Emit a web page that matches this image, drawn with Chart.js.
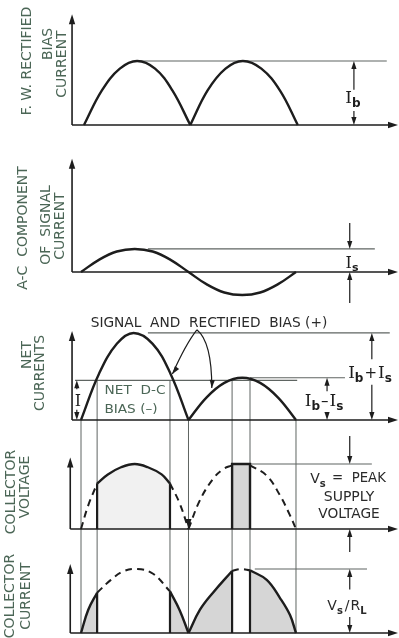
<!DOCTYPE html>
<html>
<head>
<meta charset="utf-8">
<script src="https://cdn.jsdelivr.net/npm/chart.js@4.4.1/dist/chart.umd.min.js"></script>
<style>
  html, body { margin: 0; padding: 0; background: #fff; }
  canvas { display: block; }
</style>
</head>
<body>
<canvas id="chart" width="399" height="638"></canvas>
<script>
// phase angle in degrees over one signal cycle; values relative to their own peak
const biasPhase = [5, 35, 65, 94, 124, 153, 183, 212, 242, 271, 302, 333, 363];
const biasCurrent = [0, 0.54, 0.88, 1, 0.88, 0.54, 0, 0.54, 0.88, 1, 0.88, 0.54, 0];

const signalPhase = [0, 30, 60, 90, 120, 150, 180, 210, 240, 270, 300, 330, 360];
const signalCurrent = [0, 0.19, 0.32, 0.36, 0.32, 0.19, 0, -0.19, -0.32, -0.36, -0.32, -0.19, 0];

const netPhase = [0, 30, 60, 88, 120, 150, 180, 210, 240, 270, 300, 330, 360];
const netCurrent = [0, 0.72, 1.19, 1.36, 1.19, 0.72, 0, 0.35, 0.58, 0.66, 0.58, 0.35, 0];

const voltPhase = [0, 12, 27, 45, 67, 90, 112, 135, 149, 165, 180, 199, 221, 238, 253, 283, 311, 333, 350, 360];
const voltValue = [0, 0.36, 0.7, 0.84, 0.95, 1, 0.95, 0.84, 0.7, 0.4, 0, 0.44, 0.77, 0.92, 0.98, 0.98, 0.82, 0.52, 0.21, 0];

const currPhase = [0, 12, 27, 50, 70, 93, 120, 149, 165, 180, 199, 221, 253, 268, 283, 311, 333, 350, 360];
const currValue = [0, 0.36, 0.63, 0.83, 0.96, 1, 0.93, 0.65, 0.36, 0, 0.36, 0.63, 0.97, 1, 0.98, 0.83, 0.55, 0.28, 0];

// phases where the net current crosses the net d-c bias
const cutPhase = [27, 149, 253, 283];

const Ib = 1, Is = 0.36, IbPlusIs = 1.36, IbMinusIs = 0.66, dcBias = 0.62, Vs = 1, VsRl = 1;

// ---- layout ----
const W = 399, H = 638;
const X_ZERO = 81, PX_PER_DEG = 0.5972;
const base = [125, 272, 420, 529, 633];
const ppu = [64, 64, 64, 65, 64];

const INK = '#1d1d1d', TEXT = '#2a2a2a', THIN = '#5f6562', GREEN = '#4b6656', SHADE = '#d6d6d6';

function piece(xs, ys, from, to) {
  const out = [];
  xs.forEach((x, i) => { if (x >= from && x <= to) out.push({ x: x, y: ys[i] }); });
  return out;
}

function curve(data, axis, opts) {
  return Object.assign({
    data: data, yAxisID: axis, borderColor: INK, borderWidth: 2.4,
    pointRadius: 0, tension: 0.4, fill: false
  }, opts || {});
}
const dashed = { borderDash: [7, 5], borderWidth: 2 };
const shaded = { fill: 'origin', backgroundColor: SHADE };

const datasets = [
  curve(piece(biasPhase, biasCurrent, 0, 183), 'y1'),
  curve(piece(biasPhase, biasCurrent, 183, 400), 'y1'),
  curve(piece(signalPhase, signalCurrent, 0, 360), 'y2'),
  curve(piece(netPhase, netCurrent, 0, 180), 'y3'),
  curve(piece(netPhase, netCurrent, 180, 360), 'y3'),
  // collector voltage
  curve(piece(voltPhase, voltValue, 0, 27), 'y4', dashed),
  curve(piece(voltPhase, voltValue, 27, 149), 'y4', { fill: 'origin', backgroundColor: '#f1f1f1' }),
  curve(piece(voltPhase, voltValue, 149, 180), 'y4', dashed),
  curve(piece(voltPhase, voltValue, 180, 253), 'y4', dashed),
  curve(piece(voltPhase, voltValue, 283, 360), 'y4', dashed),
  curve([{ x: 253, y: 0 }, { x: 253, y: Vs }, { x: 283, y: Vs }, { x: 283, y: 0 }], 'y4',
    { tension: 0, fill: 'origin', backgroundColor: SHADE }),
  // collector current
  curve(piece(currPhase, currValue, 0, 27), 'y5', shaded),
  curve(piece(currPhase, currValue, 27, 149), 'y5', dashed),
  curve(piece(currPhase, currValue, 149, 180), 'y5', shaded),
  curve(piece(currPhase, currValue, 180, 253), 'y5', shaded),
  curve(piece(currPhase, currValue, 253, 283), 'y5', dashed),
  curve(piece(currPhase, currValue, 283, 360), 'y5', shaded)
];

const scales = {
  x: { type: 'linear', display: false, min: -X_ZERO / PX_PER_DEG, max: (W - X_ZERO) / PX_PER_DEG }
};
base.forEach((b, i) => {
  scales['y' + (i + 1)] = { type: 'linear', display: false, min: -(H - b) / ppu[i], max: b / ppu[i] };
});

function arrowHead(ctx, x, y, dir, len, half) {
  len = len || 8; half = half || 3;
  ctx.beginPath();
  ctx.moveTo(x, y);
  if (dir === 'up') { ctx.lineTo(x - half, y + len); ctx.lineTo(x + half, y + len); }
  else if (dir === 'down') { ctx.lineTo(x - half, y - len); ctx.lineTo(x + half, y - len); }
  else { ctx.lineTo(x - len, y - half); ctx.lineTo(x - len, y + half); }
  ctx.closePath();
  ctx.fill();
}

function seg(ctx, x1, y1, x2, y2, width, color) {
  ctx.beginPath();
  ctx.lineWidth = width; ctx.strokeStyle = color;
  ctx.moveTo(x1, y1); ctx.lineTo(x2, y2);
  ctx.stroke();
}

// text centred at (cx, cy), squeezed horizontally by sx
function label(ctx, text, cx, cy, font, color, sx, rotate) {
  ctx.save();
  ctx.font = font; ctx.fillStyle = color;
  ctx.textAlign = 'center'; ctx.textBaseline = 'middle';
  ctx.translate(cx, cy);
  if (rotate) ctx.rotate(-Math.PI / 2);
  ctx.scale(sx || 1, 1);
  ctx.fillText(text, 0, 0);
  ctx.restore();
}

// symbol text such as I_b + I_s, centred at (cx, cy)
function symbol(ctx, parts, cx, cy, size, color) {
  const fonts = {
    m: size + 'px "DejaVu Serif"',
    s: 'bold ' + Math.round(size * 0.68) + 'px "DejaVu Sans"',
    o: Math.round(size * 0.9) + 'px "DejaVu Sans"'
  };
  ctx.save();
  ctx.fillStyle = color; ctx.textBaseline = 'alphabetic'; ctx.textAlign = 'left';
  let total = 0;
  parts.forEach(p => { ctx.font = fonts[p[1]]; total += ctx.measureText(p[0]).width + (p[2] || 0); });
  let x = cx - total / 2;
  const yb = cy + size * 0.36;
  parts.forEach(p => {
    ctx.font = fonts[p[1]];
    const dy = p[1] === 's' ? size * 0.22 : 0;
    ctx.fillText(p[0], x, yb + dy);
    x += ctx.measureText(p[0]).width + (p[2] || 0);
  });
  ctx.restore();
}

const drawing = {
  id: 'drawing',
  beforeDatasetsDraw(chart) {
    const ctx = chart.ctx;
    const X = a => chart.scales.x.getPixelForValue(a);
    const Y = (k, v) => chart.scales['y' + k].getPixelForValue(v);
    ctx.save();
    // thin projection lines from the net currents down to collector current
    cutPhase.forEach(a => seg(ctx, X(a), Y(3, dcBias), X(a), Y(5, 0), 1, THIN));
    [0, 180, 360].forEach(a => seg(ctx, X(a), Y(3, 0), X(a), Y(5, 0), 1, THIN));
    // reference levels
    [[1, Ib, 94, 512], [2, Is, 112, 492], [3, IbPlusIs, 112, 517], [3, dcBias, -10, 362],
     [3, IbMinusIs, 283, 442], [4, Vs, 283, 487], [5, VsRl, 291, 479]].forEach(r => {
      seg(ctx, X(r[2]), Y(r[0], r[1]), X(r[3]), Y(r[0], r[1]), 1.2, THIN);
    });
    ctx.restore();
  },
  afterDatasetsDraw(chart) {
    const ctx = chart.ctx;
    const X = a => chart.scales.x.getPixelForValue(a);
    const Y = (k, v) => chart.scales['y' + k].getPixelForValue(v);
    ctx.save();
    ctx.fillStyle = INK;

    // axes with arrows
    const axisPhase = [-15, -15, -15, -18, -18];
    const axisTop = [1.73, 1.77, 1.39, 1.1, 1.08];
    for (let k = 1; k <= 5; k++) {
      const ax = X(axisPhase[k - 1]);
      seg(ctx, ax, Y(k, 0), ax, Y(k, axisTop[k - 1]) + 4, 1.6, INK);
      arrowHead(ctx, ax, Y(k, axisTop[k - 1]), 'up', 10, 3.2);
      seg(ctx, ax, Y(k, 0), W - 6, Y(k, 0), 1.6, INK);
      arrowHead(ctx, W - 1, Y(k, 0), 'right', 10, 3.2);
    }

    // conduction edges
    [27, 149].forEach(a => {
      const v = voltValue[voltPhase.indexOf(a)];
      seg(ctx, X(a), Y(4, 0), X(a), Y(4, v), 2.2, INK);
    });
    cutPhase.forEach(a => {
      const v = currValue[currPhase.indexOf(a)];
      seg(ctx, X(a), Y(5, 0), X(a), Y(5, v), 2.2, INK);
    });
    arrowHead(ctx, X(180), Y(4, 0), 'down', 10, 3);

    // dimension arrows, pointing out from the label
    function dimOut(x, y1, y2, g1, g2) {
      seg(ctx, x, y1 + 4, x, g1, 1.2, INK);
      seg(ctx, x, g2, x, y2 - 4, 1.2, INK);
      arrowHead(ctx, x, y1, 'up', 8, 2.6);
      arrowHead(ctx, x, y2, 'down', 8, 2.6);
    }
    // dimension arrows, pointing in from outside
    function dimIn(x, y1, y2, l1, l2) {
      seg(ctx, x, y1 - l1, x, y1 - 4, 1.2, INK);
      seg(ctx, x, y2 + 4, x, y2 + l2, 1.2, INK);
      arrowHead(ctx, x, y1, 'down', 8, 2.6);
      arrowHead(ctx, x, y2, 'up', 8, 2.6);
    }
    dimOut(X(457), Y(1, Ib), Y(1, 0), Y(1, 0.55), Y(1, 0.22));
    dimIn(X(450), Y(2, Is), Y(2, 0), 26, 31);
    dimOut(X(487), Y(3, IbPlusIs), Y(3, 0), Y(3, 0.95), Y(3, 0.55));
    dimOut(X(412), Y(3, IbMinusIs), Y(3, 0), Y(3, 0.45), Y(3, 0.12));
    dimOut(X(-7), Y(3, dcBias), Y(3, 0), Y(3, 0.48), Y(3, 0.16));
    dimIn(X(450), Y(4, Vs), Y(4, 0), 28, 23);
    dimOut(X(450), Y(5, VsRl), Y(5, 0), Y(5, 0.68), Y(5, 0.25));

    // symbols
    symbol(ctx, [['I', 'm'], ['b', 's']], 353, 97, 17, INK);
    symbol(ctx, [['I', 'm'], ['s', 's']], 352, 262, 16, INK);
    symbol(ctx, [['I', 'm'], ['b', 's', 1], ['+', 'o', 1], ['I', 'm'], ['s', 's']], 370, 372, 17, INK);
    symbol(ctx, [['I', 'm'], ['b', 's', 1], ['\u2013', 'o', 1], ['I', 'm'], ['s', 's']], 324, 400, 17, INK);
    symbol(ctx, [['I', 'm']], 78, 400, 16, INK);

    // text
    const sans = '14px "DejaVu Sans"';
    label(ctx, 'SIGNAL  AND  RECTIFIED  BIAS (+)', 209, 323, sans, TEXT, 0.98);
    label(ctx, 'NET  D-C', 135, 391, '13px "DejaVu Sans"', GREEN, 1.05);
    label(ctx, 'BIAS (\u2013)', 131, 410, '13px "DejaVu Sans"', GREEN, 1.05);
    symbol(ctx, [['V', 'o'], ['s', 's']], 318, 478, 15, TEXT);
    label(ctx, '=  PEAK', 359, 478, sans, TEXT, 0.95);
    label(ctx, 'SUPPLY', 349, 497, sans, TEXT, 1.0);
    label(ctx, 'VOLTAGE', 349, 514, sans, TEXT, 0.98);
    symbol(ctx, [['V', 'o'], ['s', 's', 2], ['/', 'o', 1], ['R', 'o'], ['L', 's']], 347, 605, 15, TEXT);

    // curved pointers for "signal and rectified bias"
    ctx.strokeStyle = INK; ctx.lineWidth = 1.2;
    const ax = X(194), ay = Y(3, 1.41);
    ctx.beginPath(); ctx.moveTo(ax, ay); ctx.quadraticCurveTo(ax - 11, ay + 14, X(153), Y(3, 0.72)); ctx.stroke();
    ctx.beginPath(); ctx.moveTo(ax, ay); ctx.quadraticCurveTo(ax + 15, ay + 12, X(219), Y(3, 0.5)); ctx.stroke();
    ctx.save(); ctx.translate(X(153), Y(3, 0.72)); ctx.rotate(Math.PI * 0.7); arrowHead(ctx, 0, 0, 'right', 8, 2.6); ctx.restore();
    ctx.save(); ctx.translate(X(219), Y(3, 0.5)); ctx.rotate(Math.PI * 0.52); arrowHead(ctx, 0, 0, 'right', 8, 2.6); ctx.restore();

    // rotated axis titles
    const lab = '14px "DejaVu Sans"';
    [['F. W. RECTIFIED', 27, 61], ['BIAS', 48, 44], ['CURRENT', 62, 64],
     ['A-C  COMPONENT', 23, 228], ['OF  SIGNAL', 46, 225], ['CURRENT', 60, 226],
     ['NET', 27, 355], ['CURRENTS', 40, 373],
     ['COLLECTOR', 11, 492], ['VOLTAGE', 25, 487],
     ['COLLECTOR', 10, 596], ['CURRENT', 26, 596]].forEach(t => {
      label(ctx, t[0], t[1], t[2], lab, GREEN, 1.0, true);
    });
    ctx.restore();
  }
};

new Chart(document.getElementById('chart'), {
  type: 'line',
  data: { datasets: datasets },
  options: {
    responsive: false,
    animation: false,
    devicePixelRatio: 1,
    layout: { padding: 0 },
    events: [],
    scales: scales,
    plugins: { legend: { display: false }, tooltip: { enabled: false } }
  },
  plugins: [drawing]
});
</script>
</body>
</html>
